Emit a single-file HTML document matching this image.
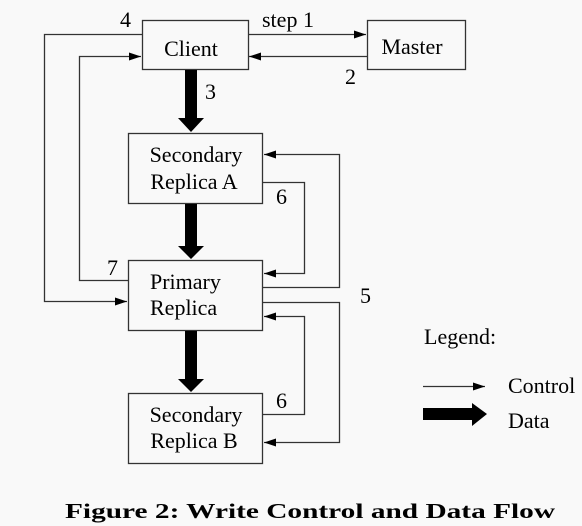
<!DOCTYPE html>
<html><head><style>
html,body{margin:0;padding:0;background:#f9f9f9;}
svg{display:block;}
text{font-family:"Liberation Serif",serif;fill:#000;}
</style></head><body>
<svg width="582" height="526" viewBox="0 0 582 526" xmlns="http://www.w3.org/2000/svg">
<defs>
<marker id="a" markerWidth="12" markerHeight="8" refX="12" refY="4" orient="auto" markerUnits="userSpaceOnUse">
<path d="M0,0 L12,4 L0,8 z" fill="#000"/></marker>
</defs>
<g fill="none" stroke="#333" stroke-width="1.3">
<rect x="142.5" y="20.5" width="106" height="49"/>
<rect x="367.5" y="20.5" width="98" height="49"/>
<rect x="128.5" y="133.5" width="134" height="70"/>
<rect x="128.5" y="260.5" width="134" height="70"/>
<rect x="128.5" y="393.5" width="134" height="70"/>
<path d="M248.5,34.5 H366" marker-end="url(#a)"/>
<path d="M367,56.5 H249" marker-end="url(#a)"/>
<path d="M142,34.5 H44.5 V301.5 H127" marker-end="url(#a)"/>
<path d="M128,280.5 H79.5 V56.5 H141" marker-end="url(#a)"/>
<path d="M263,182.5 H304.5 V273.5 H264" marker-end="url(#a)"/>
<path d="M263,287.5 H339.5 V154.5 H264" marker-end="url(#a)"/>
<path d="M263,302.5 H339.5 V442.5 H264" marker-end="url(#a)"/>
<path d="M263,414.5 H304.5 V316.5 H264" marker-end="url(#a)"/>
<path d="M423,386.5 H485" marker-end="url(#a)"/>
</g>
<g fill="#000">
<path d="M185,70 H197 V118 H204 L191,132 L178,118 H185 z"/>
<path d="M185,204 H197 V246 H204 L191,259 L178,246 H185 z"/>
<path d="M185,331 H197 V379 H204 L191,392 L178,379 H185 z"/>
<path d="M423,408 H472 V403 L487,414 L472,426 V420 H423 z"/>
</g>
<g font-size="22">
<text x="191" y="56" text-anchor="middle">Client</text>
<text x="412" y="54" text-anchor="middle">Master</text>
<text x="196" y="162" text-anchor="middle">Secondary</text>
<text x="194" y="189" text-anchor="middle">Replica A</text>
<text x="150" y="289">Primary</text>
<text x="150" y="315">Replica</text>
<text x="196" y="422" text-anchor="middle">Secondary</text>
<text x="194" y="448" text-anchor="middle">Replica B</text>
<text x="120" y="27">4</text>
<text x="262" y="27">step 1</text>
<text x="345" y="84">2</text>
<text x="205" y="99">3</text>
<text x="276" y="204">6</text>
<text x="107" y="275">7</text>
<text x="360" y="303">5</text>
<text x="276" y="408">6</text>
<text x="424" y="344">Legend:</text>
<text x="508" y="393">Control</text>
<text x="508" y="428">Data</text>
</g>
<text x="65" y="518" font-size="21" font-weight="bold" textLength="490" lengthAdjust="spacingAndGlyphs">Figure 2: Write Control and Data Flow</text>
</svg>
</body></html>
